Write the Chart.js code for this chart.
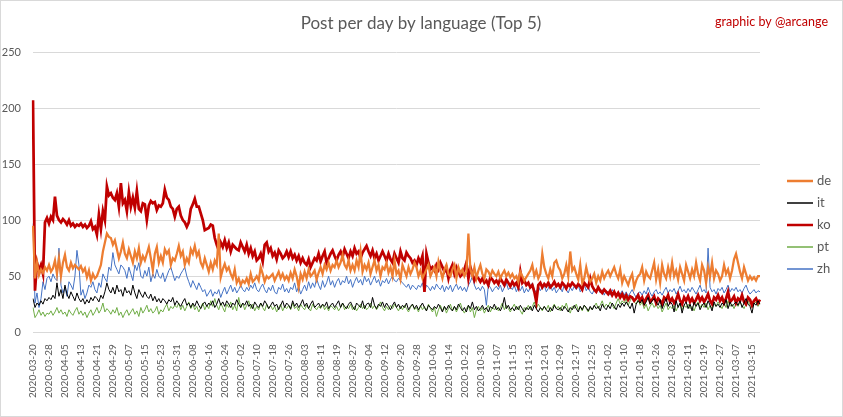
<!DOCTYPE html>
<html>
<head>
<meta charset="utf-8">
<script src="https://cdn.jsdelivr.net/npm/chart.js@4"></script>
<style>
html,body{margin:0;padding:0;background:#fff;}
#wrap{width:843px;height:417px;box-sizing:border-box;border:1px solid #d9d9d9;position:relative;}
</style>
</head>
<body>
<div id="wrap"><canvas id="c"></canvas></div>
<script>
const startDate = "2020-03-20";
const dayCount = 365;
const tickEvery = 8;
const yTicks = [0, 50, 100, 150, 200, 250];

const de = [
95,48,62,51,56,53,58,55, 60,54,57,64,52,66,50,62, 69,58,55,62,57,60,58,56, 59,54,57,49,55,46,52,48,
50,55,60,72,80,88,85,84, 78,82,74,66,72,80,70,66, 74,68,62,72,66,75,62,68, 64,70,76,66,55,70,76,62,
68,62,74,70,73,60,66,64, 70,77,68,72,60,66,62,74, 70,77,68,72,62,58,66,60, 54,62,56,64,60,88,49,56,
61,55,58,52,48,56,44,48, 42,46,44,48,43,52,45,47, 50,46,58,52,45,50,48,50, 52,46,50,54,48,52,47,50,
46,53,48,56,50,40,52,47, 54,48,56,50,52,55,47,53, 58,52,60,56,62,55,60,58, 64,58,62,69,60,57,64,55,
60,55,64,58,72,54,60,56, 62,52,58,64,55,60,50,58, 56,62,53,58,50,64,52,55, 47,60,55,50,58,52,56,62,
58,50,55,48,52,56,60,50, 54,58,50,63,55,48,56,60, 52,50,56,60,48,58,53,56, 50,54,88,56,50,58,48,55,
60,52,48,56,54,50,55,52, 50,54,48,52,55,50,53,49, 52,48,50,45,54,50,46,49, 52,55,60,50,55,48,52,70,
58,52,48,56,50,62,64,58, 55,48,52,60,50,72,55,58, 52,47,60,44,48,58,50,45, 48,52,44,50,46,54,48,52,
55,50,54,58,52,48,56,44, 50,46,42,48,52,40,46,50, 52,58,46,54,50,48,55,62, 47,56,44,60,52,48,58,50,
62,50,55,47,58,52,46,60, 54,48,56,50,62,52,46,60, 55,44,58,50,62,48,55,52, 46,50,60,52,56,48,55,65,
70,62,54,48,58,52,46,50, 47,49,46,50,50
];
const it = [
30,22,26,24,28,25,30,28, 31,29,33,30,44,32,38,30, 42,34,30,36,32,28,35,30, 27,30,25,29,26,31,28,32,
30,27,33,30,36,44,38,35, 40,34,42,36,38,32,40,35, 37,33,42,35,30,38,34,31, 36,32,30,34,28,32,27,30,
26,30,28,25,29,27,31,24, 28,25,23,27,30,24,26,22, 26,23,28,24,21,25,27,23, 26,24,28,22,25,30,24,27,
23,28,25,22,26,24,29,25, 22,26,24,28,23,25,21,27, 24,22,26,23,28,25,21,24, 27,23,25,20,24,28,22,26,
24,21,28,23,26,22,25,29, 23,26,21,25,28,22,24,26, 22,25,23,27,21,24,26,22, 25,28,22,26,23,21,25,27,
23,20,26,24,22,28,21,25, 26,22,31,24,21,25,23,27, 22,26,23,20,24,27,22,25, 21,24,22,26,20,23,25,21,
24,20,23,26,22,19,24,22, 20,23,21,25,22,18,23,20, 24,21,19,23,20,25,22,19, 22,18,24,21,27,20,23,19,
21,24,20,22,18,23,21,25, 20,22,19,23,31,21,24,20, 22,19,23,20,24,21,18,22, 20,23,19,24,21,18,22,20,
23,20,18,22,19,24,21,20, 22,19,23,21,18,22,20,24, 21,18,23,20,24,22,19,23, 20,24,21,23,19,25,22,20,
24,21,26,23,20,25,22,26, 23,27,24,21,26,17,25,28, 26,29,24,27,31,25,28,30, 27,24,29,21,26,30,23,27,
25,18,28,22,26,17,24,27, 21,25,19,27,23,26,20,24, 26,22,28,24,19,27,23,25, 22,26,24,29,21,27,23,25,
27,24,28,22,26,30,25,23, 17,26,24,28,25
];
const ko = [
207,37,62,55,60,52,98,102, 97,103,100,121,104,100,98,101, 99,96,100,95,97,94,96,95, 97,94,96,93,95,99,92,94,
87,105,92,108,100,130,122,124, 120,118,124,112,133,115,118,108, 125,112,120,111,126,110,108,115, 114,100,113,117,115,116,109,113,
112,115,127,120,118,112,110,103, 110,112,104,100,98,94,98,110, 114,119,112,112,106,100,91,92, 93,96,95,84,78,73,80,76,
82,75,80,72,78,76,74,73, 80,76,72,78,70,75,68,72, 64,66,70,63,78,80,72,75, 68,71,65,73,70,66,68,72,
67,72,66,69,64,68,62,66, 62,60,65,58,62,66,64,70, 63,68,72,62,66,70,73,68, 64,69,72,67,74,70,66,72,
68,75,70,72,66,71,74,77, 72,68,73,66,70,64,68,72, 68,64,70,65,62,70,66,62, 72,66,64,71,68,66,62,64,
60,66,62,68,36,70,62,56, 58,55,60,56,62,58,54,57, 48,56,60,52,58,54,50,52, 56,62,48,58,52,46,50,48,
45,48,44,46,42,49,47,44, 46,43,48,45,42,47,44,41, 45,42,44,40,54,44,46,42, 44,40,42,36,27,42,44,40,
43,41,44,40,42,45,41,43, 40,44,42,39,43,41,44,42, 40,43,41,38,44,42,40,48, 41,38,36,40,37,35,38,36,
34,37,33,36,32,35,31,34, 30,33,29,32,31,28,30,33, 28,31,26,30,33,27,29,32, 26,30,28,25,31,29,33,27,
30,26,29,34,28,25,31,28, 32,27,30,26,29,33,28,31, 27,30,34,28,25,31,29,33, 28,31,26,30,36,27,29,32,
26,30,28,33,27,25,31,29, 24,28,30,26,29
];
const pt = [
22,13,16,20,15,18,14,17, 16,19,15,18,22,17,20,16, 18,14,20,17,15,19,22,16, 19,15,18,13,17,20,15,18,
22,17,20,26,18,21,19,16, 20,17,22,15,18,13,17,20, 15,18,21,16,19,14,22,17, 20,24,18,21,17,19,23,16,
20,18,22,25,19,23,21,24, 22,26,20,24,19,23,27,21, 25,20,23,18,22,26,20,24, 21,28,23,30,24,20,26,22,
18,25,22,27,20,24,19,31, 22,26,20,24,28,21,25,19, 23,20,26,22,19,25,21,24, 20,23,18,22,25,19,23,21,
24,20,26,21,23,19,25,22, 20,24,21,19,25,22,20,23, 21,25,20,23,19,24,22,20, 23,19,22,26,20,23,21,25,
20,23,19,22,25,21,24,20, 22,26,21,24,20,23,27,22, 19,23,20,24,21,25,22,19, 23,20,24,21,18,22,25,20,
22,18,24,20,23,19,25,21, 18,22,14,20,24,19,23,17, 21,25,19,23,18,22,26,20, 17,21,24,18,22,13,20,23,
19,22,17,21,24,18,22,20, 23,19,22,26,20,24,21,18, 22,25,20,23,19,16,22,20, 24,20,23,27,21,25,22,19,
23,20,24,18,22,25,21,23, 19,24,21,26,20,17,23,21, 25,20,23,19,24,21,18,22, 20,23,26,21,24,28,22,25,
23,27,24,21,26,30,25,28, 26,30,24,28,32,27,25,29, 24,27,21,25,19,23,26,22, 25,21,24,18,22,26,20,23,
21,24,19,23,26,20,24,22, 25,21,23,19,24,27,22,25, 22,26,20,24,21,25,23,27, 24,21,26,22,28,23,25,21,
26,23,27,24,21,25,28,24, 22,25,27,23,26
];
const zh = [
97,26,35,22,30,45,38,48, 50,45,52,48,46,75,42,35, 40,32,45,42,38,50,73,60, 33,38,30,35,42,40,45,38,
35,44,40,52,48,45,58,55, 71,60,56,52,60,58,55,48, 58,52,46,60,55,62,50,48, 55,50,58,45,52,48,56,50,
48,53,45,50,55,58,52,46, 50,48,52,55,58,50,45,40, 46,42,38,44,40,36,38,32, 35,38,32,36,34,38,31,36,
40,34,38,42,36,40,35,38, 42,38,36,40,37,42,39,44, 38,36,40,43,38,35,40,37, 42,36,34,40,38,43,36,39,
35,40,38,44,36,41,34,38, 42,37,45,39,44,40,48,42, 38,46,40,44,50,42,46,40, 45,48,42,46,44,50,43,47,
40,45,49,44,47,42,50,45, 48,42,46,50,44,47,41,46, 44,48,43,47,50,46,45,48, 46,44,42,40,43,38,42,40,
38,42,40,44,36,42,40,37, 41,38,43,40,38,42,36,41, 38,42,36,40,43,38,41,37, 40,36,42,45,50,42,38,40,
37,41,38,24,42,40,36,39, 41,38,42,36,40,44,38,40, 38,42,36,40,37,41,35,39, 36,40,44,38,35,41,37,40,
42,36,39,43,37,40,35,38, 40,36,42,38,35,40,37,41, 38,42,36,39,43,37,40,36, 34,38,36,40,35,38,33,37,
36,33,38,35,32,36,34,37, 33,36,32,35,38,34,31,35, 36,33,37,34,40,35,32,36, 38,34,36,33,37,40,35,38,
36,39,34,37,41,36,38,35, 39,36,40,37,34,38,42,36, 38,35,75,40,36,38,34,39, 37,40,35,38,42,36,39,37,
40,36,38,35,39,42,37,34, 36,38,35,37,36
];

// category labels (dates)
const labels = [];
{
  const d0 = new Date(startDate + "T00:00:00Z");
  for (let i = 0; i < dayCount; i++) {
    const d = new Date(d0.getTime() + i * 86400000);
    labels.push(d.toISOString().slice(0, 10));
  }
}

const FONT = "Lato, 'Open Sans', sans-serif";

const extraText = {
  id: 'extraText',
  afterDraw(chart) {
    const ctx = chart.ctx;
    ctx.save();
    ctx.fillStyle = '#595959';
    ctx.font = "17px " + FONT;
    ctx.textAlign = 'center';
    ctx.textBaseline = 'middle';
    ctx.fillText('Post per day by language (Top 5)', 420, 23);
    ctx.fillStyle = '#c00000';
    ctx.font = "12.5px " + FONT;
    ctx.textAlign = 'right';
    ctx.fillText('graphic by @arcange', 827, 21);
    // legend
    chart.data.datasets.forEach((d, i) => {
      const y = 180 + 22 * i;
      ctx.strokeStyle = d.borderColor;
      ctx.lineWidth = d.borderWidth > 1.5 ? 2.5 : 1.5;
      ctx.beginPath();
      ctx.moveTo(786, y);
      ctx.lineTo(812, y);
      ctx.stroke();
      ctx.fillStyle = '#595959';
      ctx.font = "13px " + FONT;
      ctx.textAlign = 'left';
      ctx.textBaseline = 'middle';
      ctx.fillText(d.label, 816, y);
    });
    ctx.restore();
  }
};

function ds(label, data, color, width) {
  return {label, data, borderColor: color, backgroundColor: color, borderWidth: width,
          pointRadius: 0, pointHoverRadius: 0, tension: 0, fill: false};
}

new Chart(document.getElementById('c'), {
  type: 'line',
  data: {
    labels,
    datasets: [
      ds('de', de, '#ed7d31', 2.25),
      ds('it', it, '#000000', 1),
      ds('ko', ko, '#c00000', 2.75),
      ds('pt', pt, '#70ad47', 1),
      ds('zh', zh, '#4472c4', 1)
    ]
  },
  options: {
    responsive: true,
    maintainAspectRatio: false,
    animation: false,
    layout: {padding: {top: 51, left: 0, right: 82, bottom: 14}},
    plugins: {
      legend: {display: false},
      tooltip: {enabled: false},
      title: {display: false}
    },
    scales: {
      x: {
        offset: false,
        grid: {display: false},
        border: {display: false},
        afterFit: (s) => { s.paddingLeft = 0; s.paddingRight = 0; },
        ticks: {
          autoSkip: false, maxRotation: 90, minRotation: 90, color: '#595959',
          font: {family: FONT, size: 10}, padding: 4,
          callback: function(v, i) { return i % tickEvery === 0 ? labels[i] : null; }
        }
      },
      y: {
        min: 0, max: 250,
        afterBuildTicks: (axis) => { axis.ticks = yTicks.map(v => ({value: v})); },
        afterFit: (s) => { s.width = 32; },
        grid: {color: '#d9d9d9', drawTicks: false},
        border: {display: false},
        ticks: {color: '#595959', font: {family: FONT, size: 11}, padding: 12}
      }
    }
  },
  plugins: [extraText]
});
</script>
</body>
</html>
